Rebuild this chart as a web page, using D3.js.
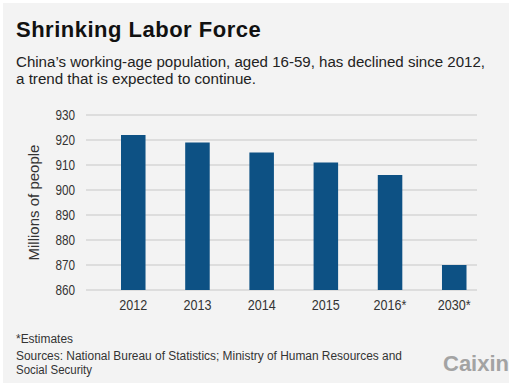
<!DOCTYPE html>
<html>
<head>
<meta charset="utf-8">
<script src="https://cdn.jsdelivr.net/npm/d3@7"></script>
<style>
  html, body { margin: 0; padding: 0; background: #ffffff; }
  svg { display: block; }
</style>
</head>
<body>
<svg id="chart" width="509" height="386"></svg>
<script>
// Working-age population (aged 16-59), millions
const years = ["2012", "2013", "2014", "2015", "2016*", "2030*"];
const population = [922, 919, 915, 911, 906, 870];
const yTicks = [860, 870, 880, 890, 900, 910, 920, 930];

const svg = d3.select("#chart");
const W = 509, H = 386;

// panel background
svg.append("rect")
  .attr("x", 3).attr("y", 3).attr("width", W - 3).attr("height", H - 6)
  .attr("fill", "#f3f3f3");

const font = "Liberation Sans, Arial, Helvetica, sans-serif";
const condense = 0.84; // horizontal squeeze for the condensed label face

// heading
svg.append("text")
  .attr("x", 16).attr("y", 37)
  .attr("font-family", font).attr("font-size", 22).attr("font-weight", "bold")
  .attr("letter-spacing", "0.5px")
  .attr("fill", "#111")
  .text("Shrinking Labor Force");

const sub = svg.append("text")
  .attr("font-family", font).attr("font-size", 15.5).attr("fill", "#222");
sub.append("tspan").attr("x", 16).attr("y", 66.5)
  .attr("textLength", 469).attr("lengthAdjust", "spacingAndGlyphs")
  .text("China\u2019s working-age population, aged 16-59, has declined since 2012,");
sub.append("tspan").attr("x", 16).attr("y", 84)
  .attr("textLength", 240).attr("lengthAdjust", "spacingAndGlyphs")
  .text("a trend that is expected to continue.");

// scales
const gridX0 = 86, gridX1 = 477;
const y = d3.scaleLinear().domain([860, 930]).range([290, 115]);
const x = d3.scaleBand().domain(years)
  .range([88.9, 498.6]).paddingInner(0.618).paddingOuter(0.5);

// gridlines
svg.append("g").selectAll("line").data(yTicks).join("line")
  .attr("x1", gridX0).attr("x2", gridX1)
  .attr("y1", d => y(d)).attr("y2", d => y(d))
  .attr("stroke", "#c8c8c8").attr("stroke-width", 1.2);

// y-axis labels
const yAxis = svg.append("g")
  .attr("transform", `translate(${gridX0 - 11},0)`)
  .call(d3.axisLeft(y).tickValues(yTicks).tickSize(0).tickPadding(0));
yAxis.select(".domain").remove();
yAxis.selectAll("text")
  .attr("font-family", font).attr("font-size", 14).attr("fill", "#333")
  .attr("transform", `scale(${condense},1)`);

// bars
svg.append("g").selectAll("rect").data(years).join("rect")
  .attr("x", d => x(d))
  .attr("y", (d, i) => y(population[i]))
  .attr("width", x.bandwidth())
  .attr("height", (d, i) => y(860) - y(population[i]))
  .attr("fill", "#0d5184");

// x-axis labels
const xAxis = svg.append("g")
  .attr("transform", `translate(0,${y(860)})`)
  .call(d3.axisBottom(x).tickSize(0).tickPadding(9));
xAxis.select(".domain").remove();
xAxis.selectAll("text")
  .attr("font-family", font).attr("font-size", 15).attr("fill", "#333")
  .attr("transform", `scale(${condense},1)`);

// y-axis title
svg.append("text")
  .attr("transform", `translate(39,${(y(860) + y(930)) / 2}) rotate(-90)`)
  .attr("text-anchor", "middle")
  .attr("font-family", font).attr("font-size", 15).attr("fill", "#333")
  .text("Millions of people");

// footnotes
const footStyle = t => t
  .attr("font-family", font).attr("font-size", 12.5).attr("fill", "#333")
  .attr("lengthAdjust", "spacingAndGlyphs");
footStyle(svg.append("text")).attr("x", 16).attr("y", 343)
  .attr("textLength", 57).text("*Estimates");
footStyle(svg.append("text")).attr("x", 16).attr("y", 359.5)
  .attr("textLength", 386)
  .text("Sources: National Bureau of Statistics; Ministry of Human Resources and");
footStyle(svg.append("text")).attr("x", 16).attr("y", 373.5)
  .attr("textLength", 76).text("Social Security");

// publisher mark
svg.append("text")
  .attr("x", 443).attr("y", 371)
  .attr("font-family", font).attr("font-size", 22).attr("font-weight", "bold")
  .attr("fill", "#a3a3a3")
  .text("Caixin");
</script>
</body>
</html>
